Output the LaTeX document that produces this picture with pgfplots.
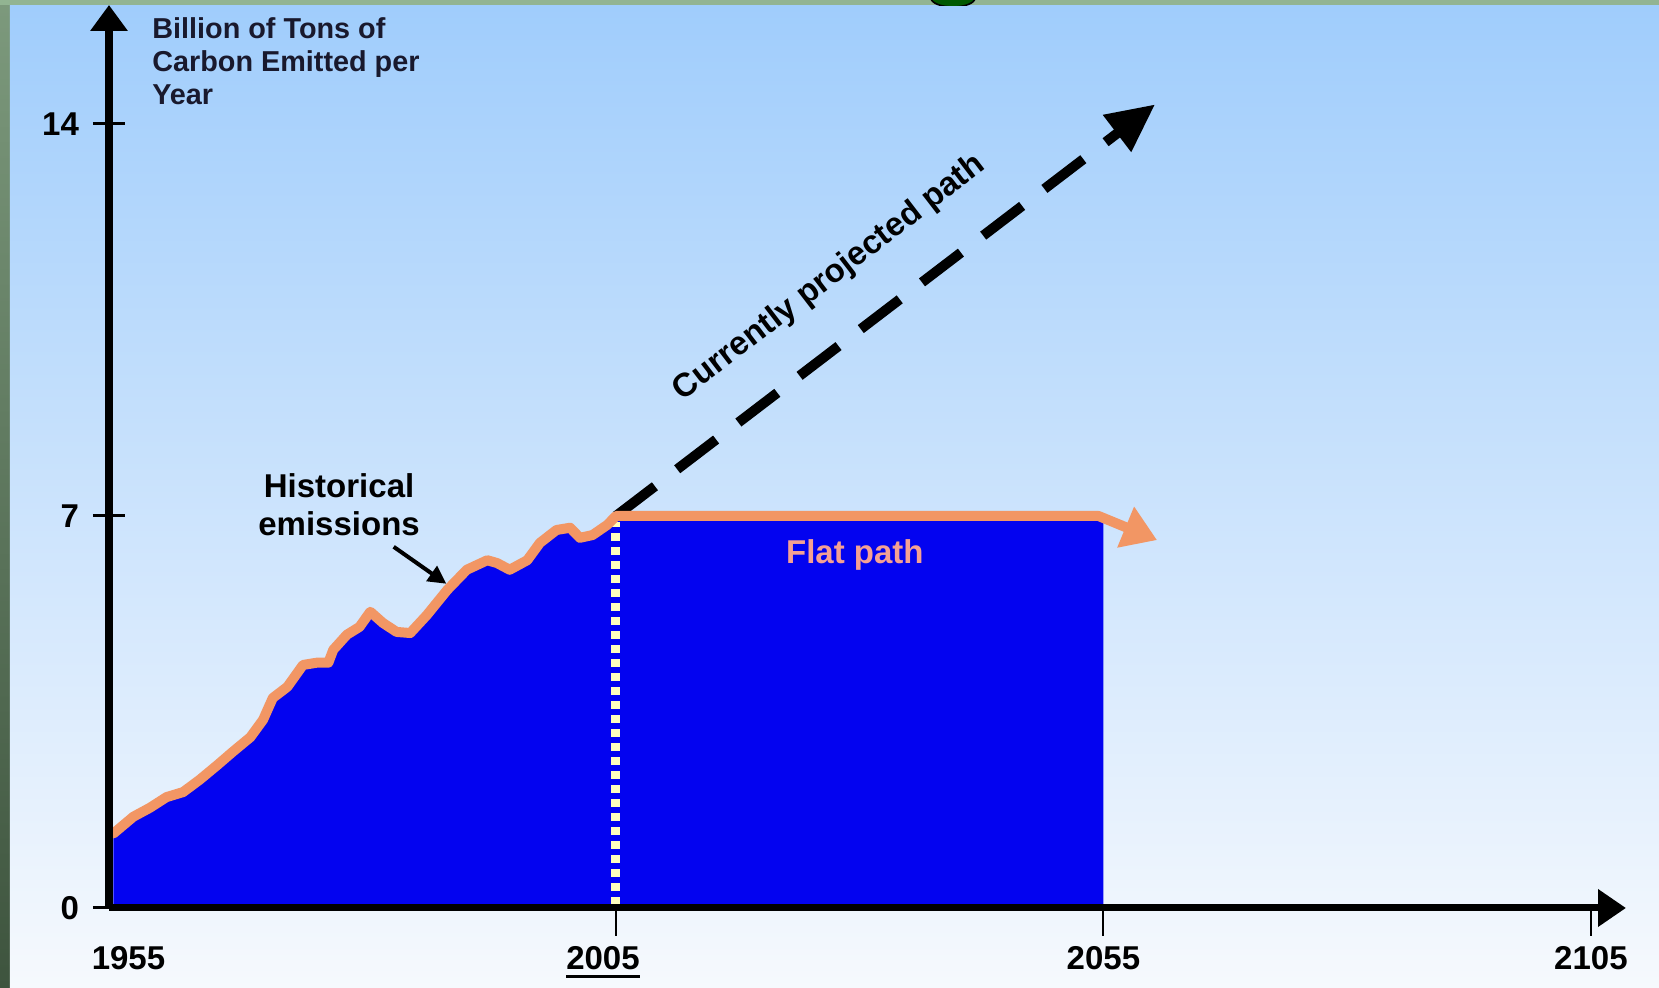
\documentclass[border=0pt]{standalone}
\usepackage{fontspec}
\setmainfont{Liberation Sans}
\usepackage{pgfplots}
\pgfplotsset{compat=1.18}
\usetikzlibrary{arrows.meta}

\definecolor{skytop}{RGB}{160,205,252}
\definecolor{skybottom}{RGB}{246,249,253}
\definecolor{slidegreen}{RGB}{146,180,146}
\definecolor{slidedark}{RGB}{62,84,62}
\definecolor{fillblue}{RGB}{3,3,240}
\definecolor{pathorange}{RGB}{242,150,100}
\definecolor{flattext}{RGB}{244,160,148}
\definecolor{cream}{RGB}{255,255,190}
\definecolor{titleink}{RGB}{25,25,45}

\newcommand\thickul[1]{\setbox0\hbox{#1}\rlap{\rule[-4.5pt]{\wd0}{1.6pt}}#1}

% historical emissions, billion tons of carbon per year
\pgfplotstableread{
year value
1953.45 1.33
1955.5 1.63
1957.2 1.79
1958.9 1.98
1960.6 2.07
1962.3 2.29
1964.1 2.55
1965.7 2.79
1967.5 3.05
1968.8 3.36
1969.8 3.75
1971.3 3.95
1972.9 4.34
1974.3 4.38
1975.5 4.38
1976.0 4.61
1977.4 4.88
1978.7 5.02
1979.8 5.29
1981.1 5.09
1982.5 4.93
1983.9 4.91
1985.6 5.23
1987.7 5.68
1989.7 6.04
1991.8 6.21
1992.8 6.16
1994.1 6.04
1995.9 6.21
1997.2 6.52
1998.9 6.75
2000.3 6.79
2001.3 6.61
2002.6 6.66
2004.1 6.84
2005.0 7.00
}\historical

\begin{document}
\begin{tikzpicture}
% slide backdrop
\fill[slidegreen] (-54.5pt,-40pt) rectangle (775pt,454pt);
\shade[top color=slidegreen!85!black, bottom color=slidedark] (-54.5pt,-40pt) rectangle (-49.5pt,451pt);
\shade[top color=skytop, bottom color=skybottom] (-49.5pt,-40pt) rectangle (775pt,451pt);
\begin{scope}
  \clip (-54.5pt,451pt) rectangle (775pt,454pt);
  \fill[green!35!black, draw=black, line width=0.8pt] (422pt,455pt) ellipse (11pt and 4.5pt);
\end{scope}

\begin{axis}[
  at={(0pt,0pt)}, anchor=south west,
  scale only axis, width=758.5pt, height=451.5pt,
  xmin=1953, xmax=2108.6, ymin=0, ymax=16.125,
  axis on top,
  axis lines=left,
  x axis line style={line width=3.5pt, -{Triangle[length=14pt,width=18pt]}},
  y axis line style={line width=4pt, -{Triangle[length=13pt,width=18pt]}},
  tick align=center, major tick length=16pt,
  xtick={2005,2055,2105},
  xticklabels={\hbox{\kern-6.5pt\thickul{2005}\kern6.5pt},2055,2105},
  extra x ticks={1955}, extra x tick labels={1955},
  extra x tick style={xtick style={draw=none}},
  ytick={0,7,14}, yticklabels={0,7,14},
  xtick style={line width=1pt, black, yshift=-6pt},
  ytick style={line width=1.5pt, black},
  ticklabel style={font=\bfseries\fontsize{16.5}{18}\selectfont, text=black},
  xticklabel style={anchor=north, yshift=-7.5pt},
  yticklabel style={anchor=east, xshift=-3.5pt},
  clip=false,
]
% emissions area: history, then held flat to 2055
\addplot[fill=fillblue, draw=none] table[x=year, y=value] {\historical}
  -- (axis cs:2055,7) \closedcycle;
% 2005 marker
\addplot[cream, line width=4.5pt, dash pattern=on 4pt off 3pt] coordinates {(2005,0.05) (2005,6.9)};
% currently projected path
\addplot[black, line width=5pt, dash pattern=on 24.5pt off 14pt,
  -{Triangle[length=24pt,width=22pt]}] coordinates {(2005,7.0) (2060.3,14.35)};
% historical emissions line
\addplot[pathorange, line width=5pt, line join=round, line cap=round] table[x=year, y=value] {\historical};
% flat path
\addplot[pathorange, line width=5pt, line join=round,
  -{Triangle[length=17pt,width=21pt]}] coordinates {(2005,7) (2054.5,7) (2060.5,6.57)};

\node[anchor=north west, align=left, inner sep=0pt, text=titleink,
  font=\bfseries\fontsize{14.4}{16.6}\selectfont]
  at (axis description cs:0.0283,0.9867) {Billion of Tons of\\Carbon Emitted per\\Year};
\node[align=center, font=\bfseries\fontsize{16.5}{19}\selectfont, text=black]
  at (axis cs:1976.6,7.2) {Historical\\emissions};
\draw[black, line width=2pt, -{Triangle[length=9pt,width=9pt]}]
  (axis cs:1982.2,6.45) -- (axis cs:1987.6,5.79);
\node[font=\bfseries\fontsize{16.5}{19}\selectfont, text=flattext]
  at (axis cs:2029.5,6.3) {Flat path};
\node[rotate=37.5, font=\bfseries\fontsize{16.5}{19}\selectfont, text=black]
  at (axis cs:2026.9,11.25) {Currently projected path};
\end{axis}
\pgfresetboundingbox
\path[use as bounding box] (-54.5pt,-40pt) rectangle (775pt,454pt);
\end{tikzpicture}
\end{document}
